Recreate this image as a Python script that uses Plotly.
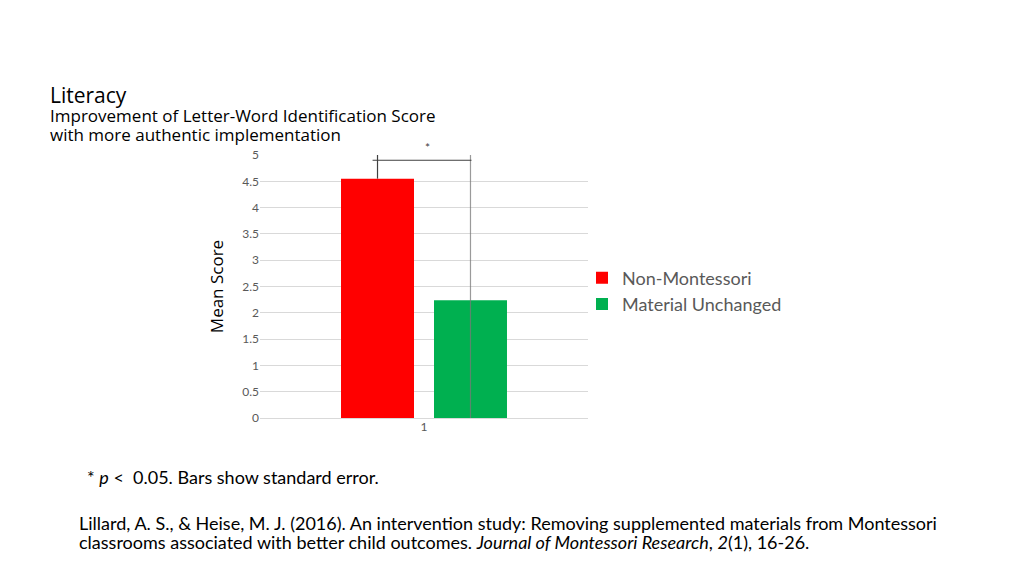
import plotly.graph_objects as go

# ---- data ----
categories = [1]
tick_labels = ["1"]
series_names = ["Non-Montessori", "Material Unchanged"]
series_values = [4.55, 2.24]
err_plus = [0.45, 2.76]
err_minus = [0.0, 2.24]
series_colors = ["#FF0000", "#00B050"]
err_colors = ["#404040", "rgba(120,120,120,0.75)"]
y_ticks = [0, 0.5, 1, 1.5, 2, 2.5, 3, 3.5, 4, 4.5, 5]
y_tick_labels = ["0", "0.5", "1", "1.5", "2", "2.5", "3", "3.5", "4", "4.5", "5"]
bracket_y = 4.9

# page body has an 8px margin in the browser; compensate
OFF = 8
W, H = 1024 - OFF, 575 - OFF
L, T = 260 - OFF, 155 - OFF
plot_right, plot_bottom = 588 - OFF, 418 - OFF
R, B = W - plot_right, H - plot_bottom
pw, ph = plot_right - L, plot_bottom - T

bargap = 0.433
bargroupgap = 0.215

fig = go.Figure()
for name, val, ep, em, col, ecol in zip(series_names, series_values, err_plus,
                                        err_minus, series_colors, err_colors):
    fig.add_trace(go.Bar(
        x=categories, y=[val], name=name, marker_color=col,
        marker_line_width=0,
        error_y=dict(type="data", symmetric=False, array=[ep], arrayminus=[em],
                     color=ecol, thickness=1.2, width=0),
    ))

slot = (1 - bargap) / len(series_names)
x_left = categories[0] - slot / 2
x_right = categories[0] + slot / 2


def px_x(p):
    return (p - OFF - L) / pw


def px_y(p):
    return (plot_bottom - (p - OFF)) / ph


fig.add_shape(type="line", xref="x", yref="y",
              x0=x_left - 0.015, x1=x_right + 0.003, y0=bracket_y, y1=bracket_y,
              line=dict(color="#404040", width=1))

ann = []
ann.append(dict(x=px_x(427), y=px_y(147), xref="paper", yref="paper", text="*",
                showarrow=False, xanchor="center", yanchor="middle",
                font=dict(family="Lato", size=12, color="#404040")))
ann.append(dict(x=px_x(48), y=px_y(95), xref="paper", yref="paper", text="Literacy",
                showarrow=False, xanchor="left", yanchor="middle",
                font=dict(family="Open Sans", size=21, color="#000000")))
ann.append(dict(x=px_x(48), y=px_y(116), xref="paper", yref="paper",
                text="Improvement of Letter-Word Identification Score",
                showarrow=False, xanchor="left", yanchor="middle",
                font=dict(family="Open Sans", size=17, color="#000000")))
ann.append(dict(x=px_x(48), y=px_y(134), xref="paper", yref="paper",
                text="with more authentic implementation",
                showarrow=False, xanchor="left", yanchor="middle",
                font=dict(family="Open Sans", size=17, color="#000000")))
ann.append(dict(x=px_x(85), y=px_y(477), xref="paper", yref="paper",
                text="* <i>p</i> <  0.05. Bars show standard error.",
                showarrow=False, xanchor="left", yanchor="middle",
                font=dict(family="Lato", size=18, color="#000000")))
ann.append(dict(x=px_x(77), y=px_y(523), xref="paper", yref="paper",
                text="Lillard, A. S., & Heise, M. J. (2016). An intervention study: Removing supplemented materials from Montessori",
                showarrow=False, xanchor="left", yanchor="middle",
                font=dict(family="Lato", size=18, color="#000000")))
ann.append(dict(x=px_x(77), y=px_y(542), xref="paper", yref="paper",
                text="classrooms associated with better child outcomes. <i>Journal of Montessori Research</i>, <i>2</i>(1), 16-26.",
                showarrow=False, xanchor="left", yanchor="middle",
                font=dict(family="Lato", size=18, color="#000000")))

fig.update_layout(
    width=W, height=H,
    margin=dict(l=L, r=R, t=T, b=B, pad=0),
    paper_bgcolor="white", plot_bgcolor="white",
    barmode="group", bargap=bargap, bargroupgap=bargroupgap,
    showlegend=True,
    legend=dict(x=px_x(582), y=px_y(291), xanchor="left", yanchor="middle",
                font=dict(family="Lato", size=18, color="#595959"),
                bgcolor="rgba(0,0,0,0)", itemwidth=30, tracegroupgap=0),
    annotations=ann,
    font=dict(family="Lato"),
)
fig.update_xaxes(range=[0.5, 1.5], tickvals=categories, ticktext=tick_labels,
                 showgrid=False, zeroline=False, showline=False,
                 tickfont=dict(family="Lato", size=12, color="#595959"),
                 ticks="", ticklen=0)
fig.update_yaxes(range=[0, 5], tickvals=y_ticks, ticktext=y_tick_labels,
                 showgrid=True, gridcolor="#D9D9D9", gridwidth=1,
                 zeroline=True, zerolinecolor="#D9D9D9", zerolinewidth=1,
                 showline=False,
                 ticks="", ticklen=0,
                 tickfont=dict(family="Lato", size=12, color="#595959"),
                 title=dict(text="Mean Score", standoff=14,
                            font=dict(family="Open Sans", size=17, color="#000000")))

fig.write_html("out.html")
